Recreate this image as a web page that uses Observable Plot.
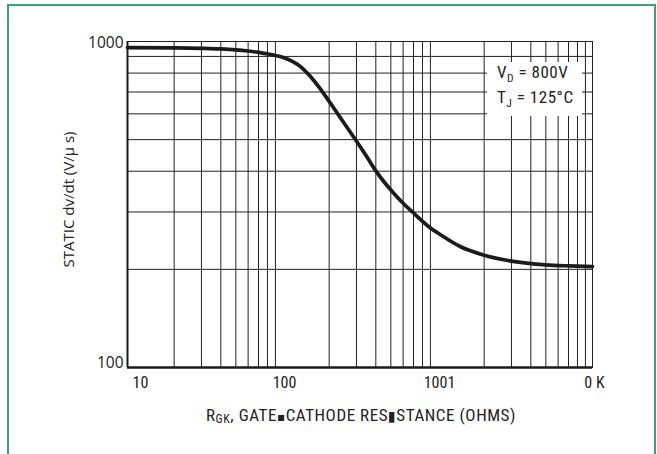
<!DOCTYPE html>
<html><head><meta charset="utf-8">
<script src="https://cdn.jsdelivr.net/npm/d3@7"></script>
<script src="https://cdn.jsdelivr.net/npm/@observablehq/plot@0.6"></script>
<style>
html,body{margin:0;padding:0;background:#fff;}
#wrap{position:relative;width:657px;height:454px;overflow:hidden;}
#border{position:absolute;left:7px;top:4px;width:649px;height:480px;border:2px solid #3aa176;box-sizing:border-box;}
#chart{position:absolute;left:0;top:0;}
</style></head><body>
<div id="wrap"><div id="border"></div><div id="chart"></div></div>
<script>
// Data (R_GK in ohms, static dv/dt in V/µs)
const resistance = [10, 20, 30, 40, 50, 60, 70, 80, 90, 100, 115, 133, 150, 173, 200, 223, 250, 298, 350, 400, 450, 520, 600, 710, 900, 1000, 1400, 2000, 3000, 5000, 7000, 10000];
const dvdt = [958, 956, 953, 949, 943, 935, 926, 916, 906, 895, 870, 832, 785, 722, 655, 608, 561, 497, 443, 401, 372, 343, 319, 296, 268, 259, 235, 221, 212, 206.5, 205, 204];

// Axes / grid
const xTickValues = [10, 100, 1000, 10000];
const xTickLabels = ["10", "100", "1001", "0 K"];
const yTickValues = [1000, 100];
const yTickLabels = ["1000", "100"];
const xGrid = [20, 30, 40, 50, 60, 70, 80, 90, 200, 300, 400, 500, 600, 700, 800, 900, 2000, 3000, 4000, 5000, 6000, 7000, 8000, 9000];
const yGrid = [200, 300, 400, 500, 600, 700, 800, 900];

const yTitle = "STATIC dv/dt (V/\u03bc s)";
const xTitleParts = ["R", "GK", ", GATE", "\u25aa", "CATHODE RES", "\u25ae", "STANCE (OHMS)"];
const legendLines = [["V", "D", " = 800V"], ["T", "J", " = 125\u00b0C"]];

const data = resistance.map((r, i) => ({r, v: dvdt[i]}));
const NARROW = '"Liberation Sans Narrow", "Roboto Condensed", "DejaVu Sans Condensed", "Liberation Sans", sans-serif';
const REG = '"Open Sans", "Noto Sans", sans-serif';
const fmtX = d => xTickLabels[xTickValues.indexOf(d)];
const fmtY = d => yTickLabels[yTickValues.indexOf(d)];

function legendMark(index, scales, values, dim) {
  const g = d3.create("svg:g");
  const right = dim.width - dim.marginRight;
  const bx = right - 105, by = dim.marginTop + 21;
  g.append("rect").attr("x", bx).attr("y", by).attr("width", 95).attr("height", 54).attr("fill", "#fff");
  legendLines.forEach((ln, i) => {
    const t = g.append("text").attr("x", bx + 10).attr("y", by + 16 + i * 25)
      .attr("text-anchor", "start").attr("letter-spacing", 0.5)
      .attr("font-family", NARROW).attr("font-size", 17).attr("fill", "#222");
    t.append("tspan").text(ln[0]);
    t.append("tspan").attr("font-size", 11.5).attr("dy", 4).text(ln[1]);
    t.append("tspan").attr("dy", -4).text(ln[2]);
  });
  return g.node();
}

function xTitleMark(index, scales, values, dim) {
  const g = d3.create("svg:g");
  const cx = (dim.marginLeft + dim.width - dim.marginRight) / 2 + 1.5;
  const t = g.append("text").attr("x", cx).attr("y", dim.height - dim.marginBottom + 54)
    .attr("text-anchor", "middle").attr("font-family", NARROW).attr("font-size", 17)
    .attr("letter-spacing", 0.55).attr("fill", "#222");
  t.append("tspan").text(xTitleParts[0]);
  t.append("tspan").attr("font-size", 12).attr("dy", 2).text(xTitleParts[1]);
  t.append("tspan").attr("dy", -2).text(xTitleParts[2]);
  t.append("tspan").attr("font-family", "DejaVu Sans").attr("font-size", 12).text(xTitleParts[3]);
  t.append("tspan").text(xTitleParts[4]);
  t.append("tspan").attr("font-family", "DejaVu Sans").attr("font-size", 14).text(xTitleParts[5]);
  t.append("tspan").text(xTitleParts[6]);
  return g.node();
}

const chart = Plot.plot({
  width: 657, height: 454,
  marginLeft: 127, marginRight: 65, marginTop: 41, marginBottom: 87,
  x: {type: "log", domain: [10, 10000]},
  y: {type: "log", domain: [100, 1000]},
  style: {background: "transparent", color: "#222"},
  marks: [
    Plot.ruleX(xGrid, {stroke: "#222", strokeWidth: 1}),
    Plot.ruleY(yGrid, {stroke: "#222", strokeWidth: 1}),
    Plot.frame({stroke: "#222", strokeWidth: 1}),
    Plot.ruleX([10], {stroke: "#1a1a1a", strokeWidth: 2}),
    Plot.ruleY([100], {stroke: "#1a1a1a", strokeWidth: 2.5}),
    legendMark,
    Plot.line(data, {x: "r", y: "v", curve: "monotone-x", stroke: "#1b1b1b", strokeWidth: 3.7}),
    Plot.axisX([xTickValues[0]], {tickSize: 0, tickPadding: 9, tickFormat: fmtX, fontSize: 16, fontFamily: NARROW, dx: 13, fill: "#222", label: null}),
    Plot.axisX(xTickValues.slice(1), {tickSize: 0, tickPadding: 9, tickFormat: fmtX, fontSize: 16, fontFamily: NARROW, dx: 2, fill: "#222", label: null}),
    Plot.axisY([yTickValues[0]], {tickSize: 0, tickPadding: 4, tickFormat: fmtY, fontSize: 15.5, fontFamily: REG, dy: 2, fill: "#222", label: null}),
    Plot.axisY([yTickValues[1]], {tickSize: 0, tickPadding: 4, tickFormat: fmtY, fontSize: 15.5, fontFamily: REG, dy: -4, fill: "#222", label: null}),
    Plot.text([yTitle], {frameAnchor: "left", textAnchor: "middle", rotate: -90, dx: -58, dy: -5, fontSize: 15, fontFamily: REG, fill: "#222"}),
    xTitleMark
  ]
});
document.getElementById("chart").appendChild(chart);
</script>
</body></html>
